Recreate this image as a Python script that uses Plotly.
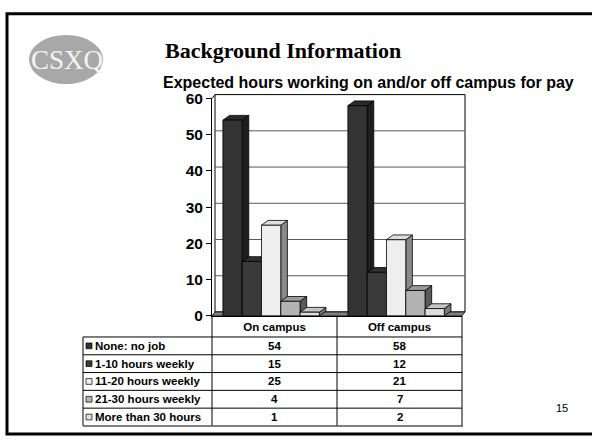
import plotly.graph_objects as go

W, H = 592, 445

categories = ["On campus", "Off campus"]
series_names = ["None: no job", "1-10 hours weekly", "11-20 hours weekly",
                "21-30 hours weekly", "More than 30 hours"]
none_no_job = [54, 58]
hours_1_10 = [15, 12]
hours_11_20 = [25, 21]
hours_21_30 = [4, 7]
hours_30_plus = [1, 2]
series_values = [none_no_job, hours_1_10, hours_11_20, hours_21_30, hours_30_plus]
y_ticks = [0, 10, 20, 30, 40, 50, 60]

front_colors = ["#333333", "#3a3a3a", "#eeeeee", "#b3b3b3", "#dddddd"]
top_colors = ["#2b2b2b", "#2f2f2f", "#dedede", "#9c9c9c", "#c6c6c6"]
side_colors = ["#1e1e1e", "#222222", "#8a8a8a", "#5a5a5a", "#7a7a7a"]


def px(x):
    return x / W


def py(y):
    return 1 - y / H


# plot geometry (pixels)
X_LEFT, X_RIGHT = 212, 462
Y_TOP, Y_BOT = 93, 319
x_unit = (X_RIGHT - X_LEFT) / 2.0        # px per category
y_unit = (Y_BOT - Y_TOP) / 60.0          # px per value unit

bar_w = 19.3 / x_unit
group_start = -0.413
dx = 6.6 / x_unit
dy = 5.0 / y_unit

fig = go.Figure()
shapes = []
annotations = []

# slide border
shapes.append(dict(type="rect", xref="paper", yref="paper",
                   x0=px(7), y0=py(5), x1=px(605), y1=py(442),
                   line=dict(color="black", width=3), layer="below"))

# logo
shapes.append(dict(type="circle", xref="paper", yref="paper",
                   x0=px(29), x1=px(103), y0=py(27), y1=py(78),
                   fillcolor="#a8a8a8", line=dict(width=0), layer="below"))
annotations.append(dict(text="CSXQ", xref="paper", yref="paper",
                        x=px(67), y=py(53), xanchor="center", yanchor="middle",
                        showarrow=False,
                        font=dict(family="Liberation Serif", size=27, color="#f4f4f4")))

# titles
annotations.append(dict(text="<b>Background Information</b>", xref="paper", yref="paper",
                        x=px(163), y=py(43), xanchor="left", yanchor="middle",
                        showarrow=False,
                        font=dict(family="Liberation Serif", size=22, color="black")))
annotations.append(dict(text="<b>Expected hours working on and/or off campus for pay</b>",
                        xref="paper", yref="paper",
                        x=px(161), y=py(76), xanchor="left", yanchor="middle",
                        showarrow=False,
                        font=dict(family="Liberation Sans", size=16, color="black")))

# back wall and floor
WDX, WDY = 3, 4
shapes.append(dict(type="rect", xref="paper", yref="paper",
                   x0=px(X_LEFT + WDX), y0=py(Y_BOT - WDY), x1=px(X_RIGHT + WDX), y1=py(Y_TOP - WDY),
                   fillcolor="white", line=dict(color="black", width=1), layer="below"))
for v in y_ticks[1:-1]:
    shapes.append(dict(type="line", xref="paper", yref="y",
                       x0=px(X_LEFT + WDX), x1=px(X_RIGHT + WDX),
                       y0=v + WDY / y_unit, y1=v + WDY / y_unit,
                       line=dict(color="#5a5a5a", width=1), layer="below"))
# left wall edge
shapes.append(dict(type="line", xref="paper", yref="paper",
                   x0=px(X_LEFT), y0=py(Y_TOP), x1=px(X_LEFT + WDX), y1=py(Y_TOP - WDY),
                   line=dict(color="black", width=1), layer="below"))
floor_path = "M {a},{b} L {c},{b} L {d},{e} L {f},{e} Z".format(
    a=px(X_LEFT), b=py(Y_BOT), c=px(X_RIGHT), d=px(X_RIGHT + WDX), e=py(Y_BOT - WDY),
    f=px(X_LEFT + WDX))
shapes.append(dict(type="path", xref="paper", yref="paper", path=floor_path,
                   fillcolor="#808080", line=dict(color="black", width=0.8), layer="below"))

# bars (front faces) and 3D faces
for i, (name, vals) in enumerate(zip(series_names, series_values)):
    off = group_start + i * bar_w
    fig.add_trace(go.Bar(
        x=[0, 1], y=vals, name=name, width=bar_w, offset=off,
        marker=dict(color=front_colors[i], line=dict(color="black", width=0.8)),
        showlegend=False, hoverinfo="y"))
    for c, v in enumerate(vals):
        x0 = c + off
        x1 = x0 + bar_w
        side = "M {x1},0 L {x2},{dy} L {x2},{t} L {x1},{v} Z".format(
            x1=x1, x2=x1 + dx, dy=dy, t=v + dy, v=v)
        top = "M {x0},{v} L {x0d},{t} L {x2},{t} L {x1},{v} Z".format(
            x0=x0, x0d=x0 + dx, x2=x1 + dx, x1=x1, t=v + dy, v=v)
        shapes.append(dict(type="path", xref="x", yref="y", path=side,
                           fillcolor=side_colors[i], line=dict(color="black", width=0.8),
                           layer="below"))
        shapes.append(dict(type="path", xref="x", yref="y", path=top,
                           fillcolor=top_colors[i], line=dict(color="black", width=0.8),
                           layer="below"))

# data table
T_LEFT = 83
HEADER_BOT = 341
ROW_H = 18.5
n_rows = len(series_names)
T_BOT = HEADER_BOT + n_rows * ROW_H
col_lines = [X_LEFT, (X_LEFT + X_RIGHT) / 2.0, X_RIGHT]
for xl in col_lines:
    shapes.append(dict(type="line", xref="paper", yref="paper",
                       x0=px(xl), x1=px(xl), y0=py(Y_BOT), y1=py(T_BOT),
                       line=dict(color="black", width=1)))
shapes.append(dict(type="line", xref="paper", yref="paper",
                   x0=px(T_LEFT), x1=px(T_LEFT), y0=py(HEADER_BOT), y1=py(T_BOT),
                   line=dict(color="black", width=1)))
for r in range(n_rows):
    yl = HEADER_BOT + r * ROW_H
    shapes.append(dict(type="line", xref="paper", yref="paper",
                       x0=px(T_LEFT), x1=px(X_RIGHT), y0=py(yl), y1=py(yl),
                       line=dict(color="black", width=1)))
shapes.append(dict(type="line", xref="paper", yref="paper",
                   x0=px(T_LEFT), x1=px(X_RIGHT + 1), y0=py(T_BOT), y1=py(T_BOT),
                   line=dict(color="#555555", width=1.6)))

for r, name in enumerate(series_names):
    yc = HEADER_BOT + (r + 0.5) * ROW_H
    shapes.append(dict(type="rect", xref="paper", yref="paper",
                       x0=px(86), x1=px(92), y0=py(yc - 3), y1=py(yc + 3),
                       fillcolor=front_colors[r], line=dict(color="black", width=0.7)))
    annotations.append(dict(text="<b>" + name + "</b>", xref="paper", yref="paper",
                            x=px(93), y=py(yc), xanchor="left", yanchor="middle",
                            showarrow=False,
                            font=dict(family="Liberation Sans", size=11.5, color="black")))
    for c in range(len(categories)):
        annotations.append(dict(text="<b>%d</b>" % series_values[r][c], xref="x", yref="paper",
                                x=c, y=py(yc), xanchor="center", yanchor="middle",
                                showarrow=False,
                                font=dict(family="Liberation Sans", size=11.5, color="black")))

# slide number
annotations.append(dict(text="15", xref="paper", yref="paper",
                        x=px(562), y=py(415), xanchor="center", yanchor="middle",
                        showarrow=False,
                        font=dict(family="Liberation Sans", size=11, color="black")))

fig.update_layout(
    width=W, height=H,
    margin=dict(l=0, r=0, t=0, b=0),
    paper_bgcolor="white", plot_bgcolor="rgba(0,0,0,0)",
    barmode="overlay",
    showlegend=False,
    shapes=shapes, annotations=annotations,
    xaxis=dict(domain=[px(X_LEFT), px(X_RIGHT)], range=[-0.5, 1.5],
               tickvals=[0, 1], ticktext=["<b>%s</b>" % c for c in categories],
               tickfont=dict(family="Liberation Sans", size=11.5, color="black"),
               showline=True, linecolor="black", linewidth=1,
               ticks="", showgrid=False, zeroline=False, fixedrange=True),
    yaxis=dict(domain=[py(Y_BOT), py(Y_TOP)], range=[0, 60],
               tickvals=y_ticks,
               tickfont=dict(family="Liberation Sans", size=15.5, color="black", weight="bold"),
               showline=True, linecolor="black", linewidth=1,
               ticks="outside", ticklen=5, tickcolor="black",
               showgrid=False, zeroline=False, fixedrange=True),
)

fig.write_html("out.html", config={"displayModeBar": False},
               post_script="document.body.style.margin='0';document.body.style.overflow='hidden';")
